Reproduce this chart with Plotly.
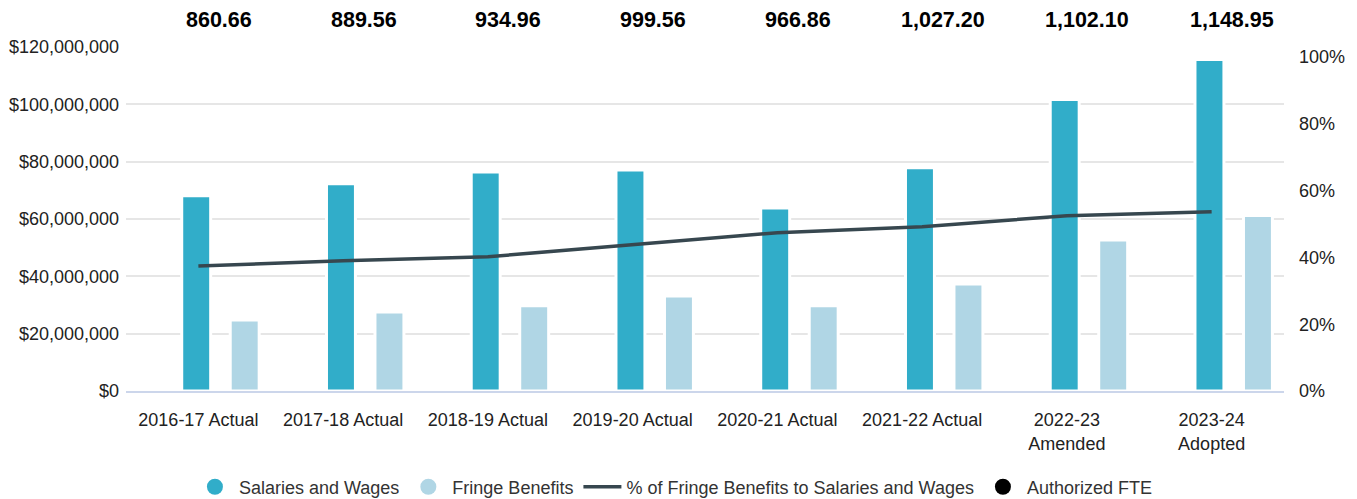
import plotly.graph_objects as go

categories = ["2016-17 Actual", "2017-18 Actual", "2018-19 Actual", "2019-20 Actual",
              "2020-21 Actual", "2021-22 Actual", "2022-23<br>Amended", "2023-24<br>Adopted"]
salaries = [68.1e6, 72.3e6, 76.4e6, 77.1e6, 63.8e6, 77.9e6, 101.7e6, 115.6e6]
fringe = [24.8e6, 27.6e6, 29.7e6, 33.1e6, 29.7e6, 37.3e6, 52.7e6, 61.2e6]
pct_fringe = [37.4, 39.0, 40.2, 43.7, 47.4, 49.2, 52.5, 53.7]
fte = [860.66, 889.56, 934.96, 999.56, 966.86, 1027.20, 1102.10, 1148.95]
fte_labels = ["860.66", "889.56", "934.96", "999.56", "966.86", "1,027.20", "1,102.10", "1,148.95"]
pct_ticks = [0, 20, 40, 60, 80, 100]
pct_tick_labels = ["0%", "20%", "40%", "60%", "80%", "100%"]

C_SAL = "#31ADC9"
C_FRI = "#B0D6E5"
C_LINE = "#37474F"
FONT = "Liberation Sans, Arial, Helvetica, sans-serif"

fig = go.Figure()

fig.add_trace(go.Bar(x=categories, y=salaries, name="Salaries and Wages", marker_color=C_SAL,
                     marker_line=dict(color="white", width=3), width=0.2, offset=-0.115,
                     showlegend=False, hoverinfo="y"))
fig.add_trace(go.Bar(x=categories, y=fringe, name="Fringe Benefits", marker_color=C_FRI,
                     marker_line=dict(color="white", width=3), width=0.2, offset=0.22,
                     showlegend=False, hoverinfo="y"))
fig.add_trace(go.Scatter(x=categories, y=pct_fringe, yaxis="y2", mode="lines",
                         name="% of Fringe Benefits to Salaries and Wages",
                         line=dict(color=C_LINE, width=3.5), legendrank=3))
# legend-only entries
fig.add_trace(go.Scatter(x=[None], y=[None], mode="markers", name="Salaries and Wages",
                         marker=dict(color=C_SAL, size=18, symbol="circle"), legendrank=1))
fig.add_trace(go.Scatter(x=[None], y=[None], mode="markers", name="Fringe Benefits",
                         marker=dict(color=C_FRI, size=18, symbol="circle"), legendrank=2))
fig.add_trace(go.Scatter(x=[None], y=[None], mode="markers", name="Authorized FTE",
                         marker=dict(color="black", size=18, symbol="circle"), legendrank=4))

annotations = []
for i, lab in enumerate(fte_labels):
    annotations.append(dict(x=i + 0.142, y=1.078, xref="x", yref="paper", text="<b>" + lab + "</b>",
                            showarrow=False, xanchor="center", yanchor="middle",
                            font=dict(size=21.5, color="#000000", family=FONT)))

fig.update_layout(
    width=1357, height=499,
    margin=dict(l=126, r=73, t=47, b=108),
    paper_bgcolor="white", plot_bgcolor="white",
    font=dict(family=FONT, color="#222222", size=18),
    barmode="overlay",
    annotations=annotations,
    legend=dict(orientation="h", xref="container", yref="container", x=0.497, y=0.024,
                xanchor="center", yanchor="middle", font=dict(size=18, color="#333333"),
                itemsizing="trace", traceorder="normal", itemwidth=38),
    xaxis=dict(type="category", range=[-0.5, 7.5], showgrid=False, showline=True, automargin=False,
               linecolor="#CCD6EB", linewidth=1.5, ticks="", tickfont=dict(size=18, color="#222222"),
               ticklabelstandoff=12),
    yaxis=dict(range=[0, 120e6], dtick=20e6, tickprefix="$", tickformat=",.0f", automargin=False,
               gridcolor="#E6E6E6", gridwidth=1.5, zeroline=False, ticks="",
               tickfont=dict(size=18, color="#222222"), ticklabelstandoff=6),
    yaxis2=dict(range=[0, 103], tickmode="array", tickvals=pct_ticks, ticktext=pct_tick_labels,
                overlaying="y", side="right", showgrid=False, zeroline=False, ticks="", automargin=False,
                tickfont=dict(size=18, color="#222222"), ticklabelstandoff=14),
)

fig.write_html("out.html", config={"displayModeBar": False},
               post_script="document.body.style.margin='0';document.body.style.padding='0';")
